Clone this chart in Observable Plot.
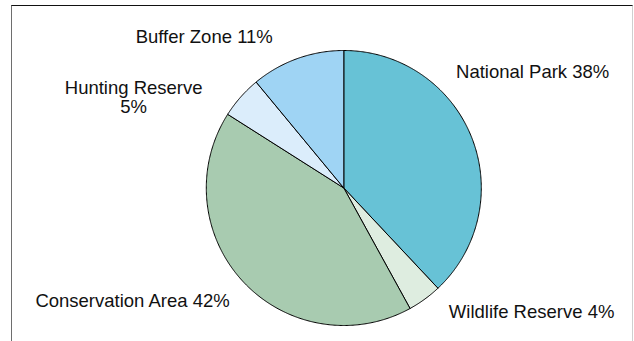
<!DOCTYPE html>
<html>
<head>
<meta charset="utf-8">
<script src="https://cdn.jsdelivr.net/npm/d3@7"></script>
<script src="https://cdn.jsdelivr.net/npm/@observablehq/plot@0.6"></script>
<style>
  html, body { margin: 0; padding: 0; background: #fff; overflow: hidden; }
  #page { position: relative; width: 634px; height: 341px; }
  #frame {
    position: absolute; left: 11px; top: 5px; width: 622px; height: 400px;
    box-sizing: border-box;
    border-top: 1.5px solid #111;
    border-left: 1px solid #6e6e6e;
    border-right: 1px solid #cfcfcf;
  }
  #chart { position: absolute; left: 0; top: 0; }
</style>
</head>
<body>
<div id="page">
  <div id="frame"></div>
  <div id="chart"></div>
</div>
<script>
// Land designation shares (percent), listed clockwise from 12 o'clock
const categories = ["National Park", "Wildlife Reserve", "Conservation Area", "Hunting Reserve", "Buffer Zone"];
const shares = [38, 4, 42, 5, 11];
const sliceColors = ["#67c2d6", "#deede0", "#a8cbb0", "#dbedfb", "#9fd4f4"];

// Label placement: pixel nudge from the slice's mid-angle point on the rim
const labelNudge = {
  "National Park": [61, -66],
  "Wildlife Reserve": [107, 12],
  "Conservation Area": [-111, 19],
  "Hunting Reserve": [-107, 0],
  "Buffer Zone": [-93, -22]
};

const total = d3.sum(shares);
let acc = 0;
const slices = categories.map((name, i) => {
  const a0 = (acc / total) * 2 * Math.PI;
  acc += shares[i];
  const a1 = (acc / total) * 2 * Math.PI;
  return {name, value: shares[i], a0, a1, mid: (a0 + a1) / 2};
});

// Each wedge as a closed outline in unit coordinates (y up, angle clockwise from top)
const outline = slices.flatMap(s => {
  const n = Math.max(2, Math.ceil((s.a1 - s.a0) / (Math.PI / 360)));
  const pts = [{name: s.name, x: 0, y: 0}];
  for (let k = 0; k <= n; ++k) {
    const a = s.a0 + ((s.a1 - s.a0) * k) / n;
    pts.push({name: s.name, x: Math.sin(a), y: Math.cos(a)});
  }
  pts.push({name: s.name, x: 0, y: 0});
  return pts;
});

const font = "'Liberation Sans', Arial, Helvetica, sans-serif";

const labelMarks = slices.map(s => {
  const [dx, dy] = labelNudge[s.name];
  return Plot.text([s], {
    x: d => Math.sin(d.mid),
    y: d => Math.cos(d.mid),
    text: d => `${d.name} ${d.value}%`,
    dx, dy,
    fontSize: 18.5,
    fontFamily: font,
    fill: "#111",
    lineHeight: 1.06,
    lineWidth: s.name === "Hunting Reserve" ? 8.5 : 30
  });
});

const chart = Plot.plot({
  width: 634,
  height: 341,
  margin: 0,
  style: {fontFamily: font, background: "transparent"},
  x: {domain: [-1, 1], range: [205.8, 480.8], axis: null},
  y: {domain: [-1, 1], range: [325, 50], axis: null},
  color: {domain: categories, range: sliceColors},
  marks: [
    Plot.line(outline, {
      x: "x",
      y: "y",
      z: "name",
      fill: "name",
      stroke: "#000",
      strokeWidth: 1,
      strokeLinejoin: "miter",
      strokeLinecap: "butt"
    }),
    ...labelMarks
  ]
});

document.getElementById("chart").appendChild(chart);
</script>
</body>
</html>
